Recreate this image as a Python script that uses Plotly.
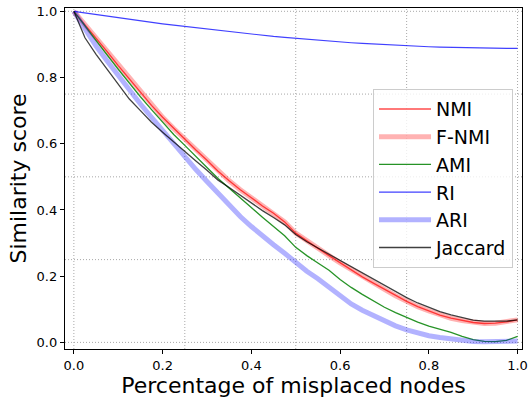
import plotly.graph_objects as go

x_vals = [0.0, 0.025, 0.05, 0.075, 0.1, 0.125, 0.15, 0.175, 0.2, 0.225,
          0.25, 0.275, 0.3, 0.325, 0.35, 0.375, 0.4, 0.425, 0.45, 0.475,
          0.5, 0.525, 0.55, 0.575, 0.6, 0.625, 0.65, 0.675, 0.7, 0.725,
          0.75, 0.775, 0.8, 0.825, 0.85, 0.875, 0.9, 0.925, 0.95, 0.975, 1.0]

nmi = [1.0, 0.96, 0.92, 0.878, 0.836, 0.795, 0.755, 0.716, 0.68, 0.646,
       0.615, 0.581, 0.55, 0.517, 0.488, 0.461, 0.437, 0.412, 0.39, 0.364,
       0.33, 0.306, 0.284, 0.262, 0.24, 0.219, 0.198, 0.179, 0.16, 0.141,
       0.124, 0.108, 0.095, 0.082, 0.073, 0.066, 0.06, 0.057, 0.058, 0.062, 0.068]

fnmi = [1.0, 0.96, 0.92, 0.878, 0.836, 0.795, 0.755, 0.716, 0.68, 0.646,
        0.615, 0.581, 0.55, 0.517, 0.488, 0.461, 0.437, 0.412, 0.39, 0.364,
        0.33, 0.306, 0.284, 0.262, 0.24, 0.219, 0.198, 0.179, 0.16, 0.141,
        0.124, 0.108, 0.095, 0.082, 0.073, 0.066, 0.06, 0.057, 0.058, 0.062, 0.068]

ami = [1.0, 0.955, 0.91, 0.868, 0.825, 0.783, 0.742, 0.703, 0.665, 0.628,
       0.595, 0.56, 0.528, 0.495, 0.465, 0.435, 0.405, 0.378, 0.35, 0.322,
       0.287, 0.262, 0.24, 0.218, 0.19, 0.166, 0.145, 0.125, 0.106, 0.09,
       0.075, 0.061, 0.049, 0.04, 0.03, 0.018, 0.008, 0.003, 0.002, 0.006, 0.018]

ri = [1.0, 0.995, 0.99, 0.985, 0.98, 0.975, 0.971, 0.966, 0.962, 0.958,
      0.954, 0.95, 0.946, 0.942, 0.938, 0.934, 0.931, 0.927, 0.924, 0.921,
      0.918, 0.915, 0.912, 0.909, 0.907, 0.905, 0.903, 0.901, 0.899, 0.897,
      0.896, 0.894, 0.893, 0.892, 0.891, 0.89, 0.889, 0.889, 0.888, 0.888, 0.888]

ari = [1.0, 0.945, 0.895, 0.85, 0.805, 0.76, 0.72, 0.68, 0.64, 0.6,
       0.562, 0.522, 0.486, 0.45, 0.412, 0.38, 0.35, 0.321, 0.295, 0.269,
       0.24, 0.215, 0.192, 0.168, 0.141, 0.116, 0.097, 0.08, 0.064, 0.05,
       0.038, 0.028, 0.02, 0.015, 0.01, 0.006, 0.003, 0.002, 0.002, 0.002, 0.004]

jaccard = [1.0, 0.92, 0.87, 0.825, 0.78, 0.735, 0.7, 0.665, 0.635, 0.605,
           0.576, 0.548, 0.52, 0.49, 0.468, 0.445, 0.42, 0.398, 0.377, 0.355,
           0.326, 0.304, 0.285, 0.266, 0.247, 0.228, 0.21, 0.19, 0.171, 0.152,
           0.135, 0.119, 0.105, 0.093, 0.083, 0.074, 0.067, 0.064, 0.063, 0.064, 0.068]

x_ticks = [0.0, 0.2, 0.4, 0.6, 0.8, 1.0]
y_ticks = [0.0, 0.2, 0.4, 0.6, 0.8, 1.0]
grid_pos = [0.0, 0.25, 0.5, 0.75, 1.0]

fig = go.Figure()
fig.add_trace(go.Scatter(x=x_vals, y=nmi, name="NMI", mode="lines",
                         line=dict(color="rgba(255,0,0,0.7)", width=1.3)))
fig.add_trace(go.Scatter(x=x_vals, y=fnmi, name="F-NMI", mode="lines",
                         line=dict(color="rgba(255,0,0,0.3)", width=5)))
fig.add_trace(go.Scatter(x=x_vals, y=ami, name="AMI", mode="lines",
                         line=dict(color="rgba(0,128,0,0.85)", width=1.3)))
fig.add_trace(go.Scatter(x=x_vals, y=ri, name="RI", mode="lines",
                         line=dict(color="rgba(0,0,255,0.75)", width=1.2)))
fig.add_trace(go.Scatter(x=x_vals, y=ari, name="ARI", mode="lines",
                         line=dict(color="rgba(0,0,255,0.3)", width=5)))
fig.add_trace(go.Scatter(x=x_vals, y=jaccard, name="Jaccard", mode="lines",
                         line=dict(color="rgba(0,0,0,0.75)", width=1.3)))

shapes = []
for g in grid_pos:
    shapes.append(dict(type="line", xref="x", yref="paper", x0=g, x1=g, y0=0, y1=1,
                       line=dict(color="#a8a8a8", width=1, dash="1px,2px"), layer="below"))
    shapes.append(dict(type="line", xref="paper", yref="y", x0=0, x1=1, y0=g, y1=g,
                       line=dict(color="#a8a8a8", width=1, dash="1px,2px"), layer="below"))

fig.update_layout(
    width=529, height=403,
    margin=dict(l=65, r=7, t=8, b=54),
    paper_bgcolor="white", plot_bgcolor="white",
    font=dict(family="DejaVu Sans", color="black"),
    shapes=shapes,
    showlegend=True,
    legend=dict(x=0.674, y=0.762, xanchor="left", yanchor="top",
                itemwidth=52,
                bgcolor="rgba(255,255,255,0.8)", bordercolor="#cccccc", borderwidth=1,
                font=dict(size=19, family="DejaVu Sans", color="black")),
    xaxis=dict(range=[-0.02, 1.01], tickvals=x_ticks, ticktext=[f"{v:.1f}" for v in x_ticks],
               showgrid=False, zeroline=False, showline=True, linecolor="black", linewidth=1.3,
               mirror=True, ticks="outside", ticklen=4, tickcolor="black", automargin=False,
               ticklabeloverflow="allow",
               tickfont=dict(size=13), title=dict(text="Percentage of misplaced nodes",
                                                  font=dict(size=22), standoff=4)),
    yaxis=dict(range=[-0.02, 1.01], tickvals=y_ticks, ticktext=[f"{v:.1f}" for v in y_ticks],
               showgrid=False, zeroline=False, showline=True, linecolor="black", linewidth=1.3,
               mirror=True, ticks="outside", ticklen=4, tickcolor="black", automargin=False,
               ticklabeloverflow="allow",
               tickfont=dict(size=13), title=dict(text="Similarity score",
                                                  font=dict(size=22), standoff=3)),
)

fig.write_html("out.html", config={"displayModeBar": False},
               post_script="document.body.style.margin='0px';")
